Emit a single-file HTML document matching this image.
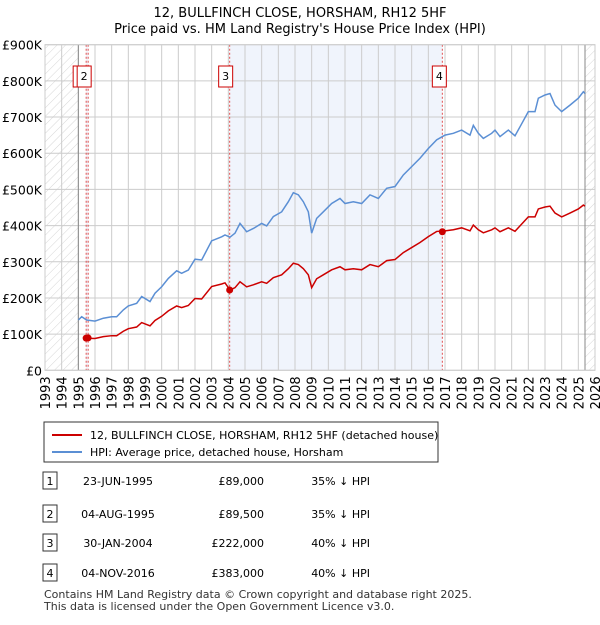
<!DOCTYPE html>
<html><head><meta charset="utf-8"><style>
body{margin:0;background:#fff;font-family:"Liberation Sans","DejaVu Sans",sans-serif;}
svg text{font-family:"DejaVu Sans","Liberation Sans",sans-serif;}
</style></head><body>
<svg id="chart" width="600" height="620" viewBox="0 0 600 620">
<defs><pattern id="hatch" width="6" height="6" patternUnits="userSpaceOnUse" patternTransform="rotate(45)"><line x1="0" y1="0" x2="0" y2="6" stroke="#ccc" stroke-width="0.8"/></pattern></defs>
<text x="300" y="17" text-anchor="middle" font-size="13">12, BULLFINCH CLOSE, HORSHAM, RH12 5HF</text>
<text x="300" y="33" text-anchor="middle" font-size="13">Price paid vs. HM Land Registry's House Price Index (HPI)</text>
<g id="plot"></g>
<g>
<rect x="44" y="422" width="394" height="40" fill="#fff" stroke="#333" stroke-width="1"/>
<line x1="52" y1="435" x2="82" y2="435" stroke="#cc0000" stroke-width="2"/>
<text x="90" y="439" font-size="11">12, BULLFINCH CLOSE, HORSHAM, RH12 5HF (detached house)</text>
<line x1="52" y1="452" x2="82" y2="452" stroke="#5b8fd4" stroke-width="2"/>
<text x="90" y="456" font-size="11">HPI: Average price, detached house, Horsham</text>
</g>
<g id="table" font-size="11"></g>
<text x="44" y="598" font-size="11" fill="#333">Contains HM Land Registry data © Crown copyright and database right 2025.</text>
<text x="44" y="610" font-size="11" fill="#333">This data is licensed under the Open Government Licence v3.0.</text>
</svg>
<script>
const hpiYears=[1995.0,1995.2,1995.5,1996.0,1996.5,1997.0,1997.3,1997.7,1998.0,1998.5,1998.8,1999.3,1999.6,2000.0,2000.4,2000.9,2001.2,2001.6,2002.0,2002.4,2003.0,2003.6,2003.8,2004.1,2004.4,2004.7,2005.1,2005.5,2006.0,2006.3,2006.7,2007.2,2007.6,2007.9,2008.2,2008.5,2008.8,2009.0,2009.3,2009.7,2010.2,2010.7,2011.0,2011.5,2012.0,2012.5,2013.0,2013.5,2014.0,2014.5,2015.0,2015.5,2016.0,2016.5,2017.0,2017.5,2018.0,2018.5,2018.7,2019.0,2019.3,2019.8,2020.0,2020.3,2020.8,2021.2,2021.5,2022.0,2022.4,2022.6,2023.0,2023.3,2023.6,2024.0,2024.5,2025.0,2025.3,2025.4];
const hpiValues=[139,148,139,136,144,148,148,167,178,185,204,190,213,231,254,275,268,277,307,305,358,369,374,368,379,406,383,392,406,399,425,438,466,491,485,466,438,379,420,438,461,475,461,466,461,485,475,503,508,540,563,586,613,637,650,655,664,650,677,655,641,655,664,646,664,648,673,715,715,752,761,765,733,715,733,752,770,765];
const saleLabels=["1","2","3","4"];
const saleYears=[1995.47,1995.59,2004.08,2016.84];
const salePrices=[89000,89500,222000,383000];
const saleDates=["23-JUN-1995","04-AUG-1995","30-JAN-2004","04-NOV-2016"];
const salePriceText=["£89,000","£89,500","£222,000","£383,000"];
const saleHpiText=["35% ↓ HPI","35% ↓ HPI","40% ↓ HPI","40% ↓ HPI"];
const yTicks=[0,100,200,300,400,500,600,700,800,900];
const yTickLabels=["£0","£100K","£200K","£300K","£400K","£500K","£600K","£700K","£800K","£900K"];
const xTicks=[1993,1994,1995,1996,1997,1998,1999,2000,2001,2002,2003,2004,2005,2006,2007,2008,2009,2010,2011,2012,2013,2014,2015,2016,2017,2018,2019,2020,2021,2022,2023,2024,2025,2026];

const L=45,R=595,T=44.7,B=370.3,X0=1993,X1=2026,YMAX=900;
const xs=v=>L+(v-X0)/(X1-X0)*(R-L);
const ys=v=>B-v/YMAX*(B-T);
const NS="http://www.w3.org/2000/svg";
const plot=document.getElementById('plot');
function mk(tag,attrs,parent){const e=document.createElementNS(NS,tag);for(const k in attrs)e.setAttribute(k,attrs[k]);(parent||plot).appendChild(e);return e;}
function hpiAt(t){if(t<=hpiYears[0])return hpiValues[0];for(let i=1;i<hpiYears.length;i++){if(t<=hpiYears[i]){const f=(t-hpiYears[i-1])/(hpiYears[i]-hpiYears[i-1]);return hpiValues[i-1]+f*(hpiValues[i]-hpiValues[i-1]);}}return hpiValues[hpiValues.length-1];}

let e;
e=mk('rect',{x:L,y:T,width:R-L,height:B-T,fill:'#fff'});


e=mk('rect',{x:xs(saleYears[2]),y:T,width:xs(saleYears[3])-xs(saleYears[2]),height:B-T,fill:'#f0f4fc'});


e=mk('rect',{x:xs(saleYears[0]),y:T,width:xs(saleYears[1])-xs(saleYears[0]),height:B-T,fill:'#f0f4fc'});


e=mk('rect',{x:L,y:T,width:xs(1995)-L,height:B-T,fill:'url(#hatch)'});


e=mk('rect',{x:xs(2025.4),y:T,width:R-xs(2025.4),height:B-T,fill:'url(#hatch)'});


yTicks.forEach((v,i)=>{
 e=mk('line',{x1:L,x2:R,y1:ys(v),y2:ys(v),stroke:'#cccccc','stroke-width':1});
 
 
 e=mk('text',{x:L-3,y:ys(v)+5,'text-anchor':'end','font-size':12.5});
 e.textContent=yTickLabels[i];
 
 
});
xTicks.forEach(v=>{
 e=mk('line',{x1:xs(v),x2:xs(v),y1:T,y2:B,stroke:'#cccccc','stroke-width':1});
 
 
 e=mk('text',{x:0,y:0,'text-anchor':'end','font-size':13,transform:`translate(${xs(v)+5},${B+6}) rotate(-90)`});
 e.textContent=v;
 
 
});
e=mk('line',{x1:xs(1995),x2:xs(1995),y1:T,y2:B,stroke:'#888','stroke-width':1});


e=mk('line',{x1:xs(2025.4),x2:xs(2025.4),y1:T,y2:B,stroke:'#888','stroke-width':1});


saleYears.forEach((t,i)=>{
 e=mk('line',{x1:xs(t),x2:xs(t),y1:T,y2:B,stroke:'#e05050','stroke-width':1,'stroke-dasharray':'2,2'});
 
 
});
e=mk('polyline',{points:hpiYears.map((t,i)=>xs(t)+','+ys(hpiValues[i])).join(' '),fill:'none',stroke:'#5b8fd4','stroke-width':1.5});


const pts=[];
hpiYears.forEach((t,i)=>{
 let k=0;for(let j=0;j<saleYears.length;j++)if(saleYears[j]<=t)k=j;
 const v=salePrices[k]/1000*hpiValues[i]/hpiAt(saleYears[k]);
 if(t>=saleYears[0]-0.5)pts.push(xs(Math.max(t,saleYears[0]))+','+ys(v));
});
e=mk('polyline',{points:pts.join(' '),fill:'none',stroke:'#cc0000','stroke-width':1.5});


saleYears.forEach((t,i)=>{
 e=mk('circle',{cx:xs(t),cy:ys(salePrices[i]/1000),r:3.5,fill:'#cc0000'});
 
 
});
const boxC=[xs(saleYears[0])-6,xs(saleYears[1])-4,xs(saleYears[2])-4,xs(saleYears[3])-3];
saleLabels.forEach((s,i)=>{
 const g=mk('g',{});
 
 
 mk('rect',{x:boxC[i]-7,y:66,width:14,height:21,fill:'#fff',stroke:'#cc0000','stroke-width':1},g);
 const tx=mk('text',{x:boxC[i],y:80,'text-anchor':'middle','font-size':11},g);tx.textContent=s;
});
e=mk('rect',{x:L,y:T,width:R-L,height:B-T,fill:'none',stroke:'#cccccc'});


const tbl=document.getElementById('table');
const rowY=[483,516,545,575];
saleLabels.forEach((s,i)=>{
 const g=mk('g',{},tbl);
 
 
 mk('rect',{x:43,y:rowY[i]-11,width:14,height:17,fill:'#fff',stroke:'#333'},g);
 let t=mk('text',{x:50,y:rowY[i]+2,'text-anchor':'middle'},g);t.textContent=s;
 t=mk('text',{x:118,y:rowY[i]+2,'text-anchor':'middle'},g);t.textContent=saleDates[i];
 t=mk('text',{x:264,y:rowY[i]+2,'text-anchor':'end'},g);t.textContent=salePriceText[i];
 t=mk('text',{x:370,y:rowY[i]+2,'text-anchor':'end'},g);t.textContent=saleHpiText[i];
});
</script>
</body></html>
